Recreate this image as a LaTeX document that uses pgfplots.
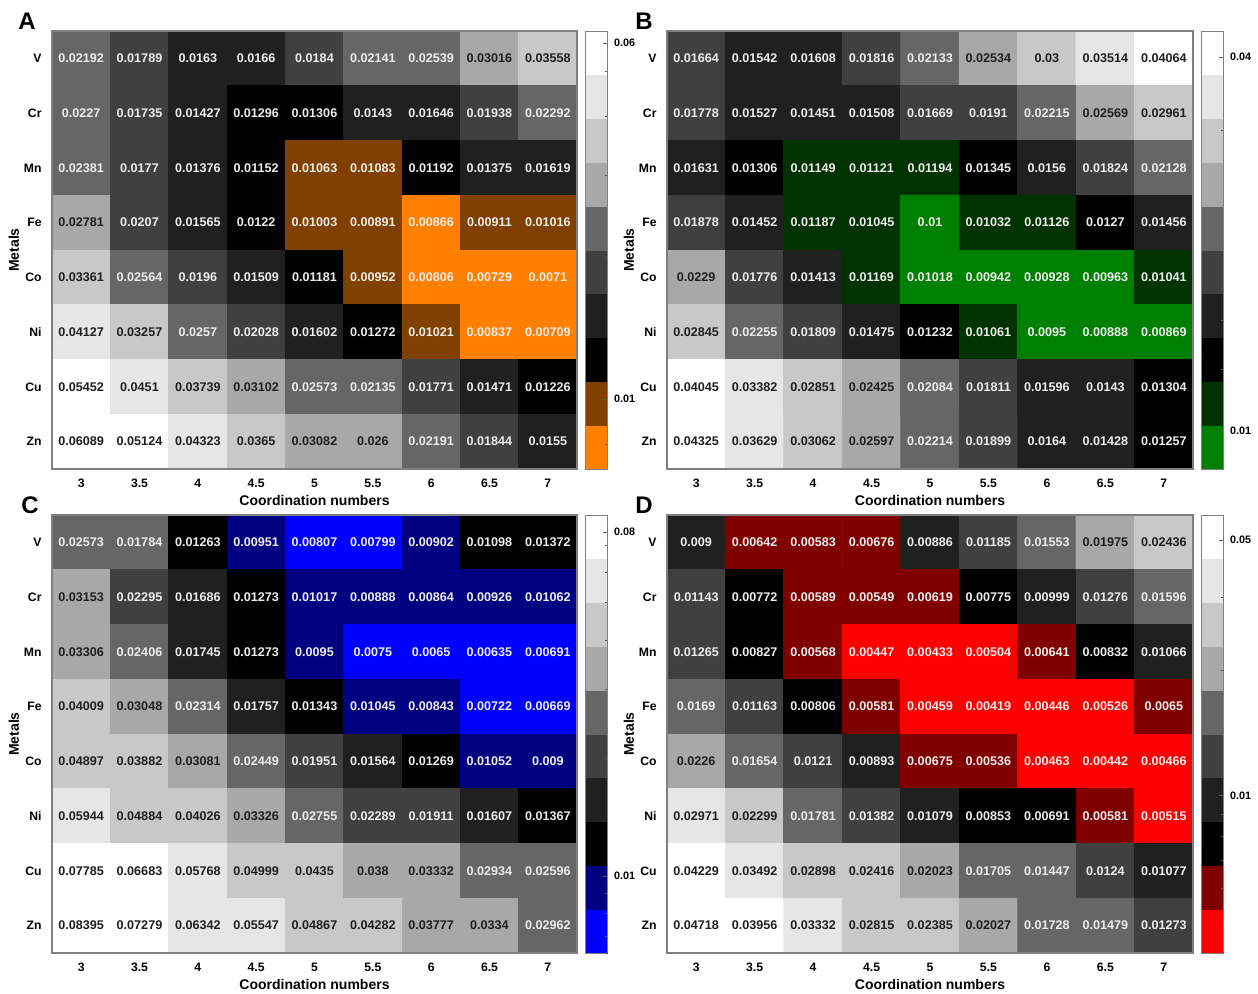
\documentclass[border=0pt]{standalone}
\usepackage{pgfplots}
\pgfplotsset{compat=1.18}
\usepackage{pgfplotstable}
\usepackage{fontspec}
\setmainfont{Liberation Sans}

% columns: x (coordination index), y (metal index), v (value), b (colour class of the cell, 0..9)
\pgfplotstableread[row sep=\\]{
x y v b\\
0 7 0.02192 5\\ 1 7 0.01789 4\\ 2 7 0.0163 3\\ 3 7 0.0166 3\\ 4 7 0.0184 4\\ 5 7 0.02141 5\\ 6 7 0.02539 5\\ 7 7 0.03016 6\\ 8 7 0.03558 7\\
0 6 0.0227 5\\ 1 6 0.01735 4\\ 2 6 0.01427 3\\ 3 6 0.01296 2\\ 4 6 0.01306 2\\ 5 6 0.0143 3\\ 6 6 0.01646 3\\ 7 6 0.01938 4\\ 8 6 0.02292 5\\
0 5 0.02381 5\\ 1 5 0.0177 4\\ 2 5 0.01376 3\\ 3 5 0.01152 2\\ 4 5 0.01063 1\\ 5 5 0.01083 1\\ 6 5 0.01192 2\\ 7 5 0.01375 3\\ 8 5 0.01619 3\\
0 4 0.02781 6\\ 1 4 0.0207 4\\ 2 4 0.01565 3\\ 3 4 0.0122 2\\ 4 4 0.01003 1\\ 5 4 0.00891 1\\ 6 4 0.00866 0\\ 7 4 0.00911 1\\ 8 4 0.01016 1\\
0 3 0.03361 7\\ 1 3 0.02564 5\\ 2 3 0.0196 4\\ 3 3 0.01509 3\\ 4 3 0.01181 2\\ 5 3 0.00952 1\\ 6 3 0.00806 0\\ 7 3 0.00729 0\\ 8 3 0.0071 0\\
0 2 0.04127 8\\ 1 2 0.03257 7\\ 2 2 0.0257 5\\ 3 2 0.02028 4\\ 4 2 0.01602 3\\ 5 2 0.01272 2\\ 6 2 0.01021 1\\ 7 2 0.00837 0\\ 8 2 0.00709 0\\
0 1 0.05452 9\\ 1 1 0.0451 8\\ 2 1 0.03739 7\\ 3 1 0.03102 6\\ 4 1 0.02573 5\\ 5 1 0.02135 5\\ 6 1 0.01771 4\\ 7 1 0.01471 3\\ 8 1 0.01226 2\\
0 0 0.06089 9\\ 1 0 0.05124 9\\ 2 0 0.04323 8\\ 3 0 0.0365 7\\ 4 0 0.03082 6\\ 5 0 0.026 6\\ 6 0 0.02191 5\\ 7 0 0.01844 4\\ 8 0 0.0155 3\\
}\dataA

\pgfplotstableread[row sep=\\]{
x y v b\\
0 7 0.01664 4\\ 1 7 0.01542 3\\ 2 7 0.01608 3\\ 3 7 0.01816 4\\ 4 7 0.02133 5\\ 5 7 0.02534 6\\ 6 7 0.03 7\\ 7 7 0.03514 8\\ 8 7 0.04064 9\\
0 6 0.01778 4\\ 1 6 0.01527 3\\ 2 6 0.01451 3\\ 3 6 0.01508 3\\ 4 6 0.01669 4\\ 5 6 0.0191 4\\ 6 6 0.02215 5\\ 7 6 0.02569 6\\ 8 6 0.02961 7\\
0 5 0.01631 3\\ 1 5 0.01306 2\\ 2 5 0.01149 1\\ 3 5 0.01121 1\\ 4 5 0.01194 1\\ 5 5 0.01345 2\\ 6 5 0.0156 3\\ 7 5 0.01824 4\\ 8 5 0.02128 5\\
0 4 0.01878 4\\ 1 4 0.01452 3\\ 2 4 0.01187 1\\ 3 4 0.01045 1\\ 4 4 0.01 0\\ 5 4 0.01032 1\\ 6 4 0.01126 1\\ 7 4 0.0127 2\\ 8 4 0.01456 3\\
0 3 0.0229 6\\ 1 3 0.01776 4\\ 2 3 0.01413 3\\ 3 3 0.01169 1\\ 4 3 0.01018 0\\ 5 3 0.00942 0\\ 6 3 0.00928 0\\ 7 3 0.00963 0\\ 8 3 0.01041 1\\
0 2 0.02845 7\\ 1 2 0.02255 5\\ 2 2 0.01809 4\\ 3 2 0.01475 3\\ 4 2 0.01232 2\\ 5 2 0.01061 1\\ 6 2 0.0095 0\\ 7 2 0.00888 0\\ 8 2 0.00869 0\\
0 1 0.04045 9\\ 1 1 0.03382 8\\ 2 1 0.02851 7\\ 3 1 0.02425 6\\ 4 1 0.02084 5\\ 5 1 0.01811 4\\ 6 1 0.01596 3\\ 7 1 0.0143 3\\ 8 1 0.01304 2\\
0 0 0.04325 9\\ 1 0 0.03629 8\\ 2 0 0.03062 7\\ 3 0 0.02597 6\\ 4 0 0.02214 5\\ 5 0 0.01899 4\\ 6 0 0.0164 3\\ 7 0 0.01428 3\\ 8 0 0.01257 2\\
}\dataB

\pgfplotstableread[row sep=\\]{
x y v b\\
0 7 0.02573 5\\ 1 7 0.01784 5\\ 2 7 0.01263 2\\ 3 7 0.00951 1\\ 4 7 0.00807 0\\ 5 7 0.00799 0\\ 6 7 0.00902 1\\ 7 7 0.01098 2\\ 8 7 0.01372 2\\
0 6 0.03153 6\\ 1 6 0.02295 4\\ 2 6 0.01686 3\\ 3 6 0.01273 2\\ 4 6 0.01017 1\\ 5 6 0.00888 1\\ 6 6 0.00864 1\\ 7 6 0.00926 1\\ 8 6 0.01062 1\\
0 5 0.03306 6\\ 1 5 0.02406 5\\ 2 5 0.01745 3\\ 3 5 0.01273 2\\ 4 5 0.0095 1\\ 5 5 0.0075 0\\ 6 5 0.0065 0\\ 7 5 0.00635 0\\ 8 5 0.00691 0\\
0 4 0.04009 7\\ 1 4 0.03048 6\\ 2 4 0.02314 5\\ 3 4 0.01757 3\\ 4 4 0.01343 2\\ 5 4 0.01045 1\\ 6 4 0.00843 1\\ 7 4 0.00722 0\\ 8 4 0.00669 0\\
0 3 0.04897 7\\ 1 3 0.03882 7\\ 2 3 0.03081 6\\ 3 3 0.02449 5\\ 4 3 0.01951 4\\ 5 3 0.01564 3\\ 6 3 0.01269 2\\ 7 3 0.01052 1\\ 8 3 0.009 1\\
0 2 0.05944 8\\ 1 2 0.04884 7\\ 2 2 0.04026 7\\ 3 2 0.03326 6\\ 4 2 0.02755 5\\ 5 2 0.02289 4\\ 6 2 0.01911 4\\ 7 2 0.01607 3\\ 8 2 0.01367 2\\
0 1 0.07785 9\\ 1 1 0.06683 9\\ 2 1 0.05768 8\\ 3 1 0.04999 7\\ 4 1 0.0435 7\\ 5 1 0.038 6\\ 6 1 0.03332 6\\ 7 1 0.02934 5\\ 8 1 0.02596 5\\
0 0 0.08395 9\\ 1 0 0.07279 9\\ 2 0 0.06342 8\\ 3 0 0.05547 8\\ 4 0 0.04867 7\\ 5 0 0.04282 7\\ 6 0 0.03777 6\\ 7 0 0.0334 6\\ 8 0 0.02962 5\\
}\dataC

\pgfplotstableread[row sep=\\]{
x y v b\\
0 7 0.009 3\\ 1 7 0.00642 1\\ 2 7 0.00583 1\\ 3 7 0.00676 1\\ 4 7 0.00886 3\\ 5 7 0.01185 4\\ 6 7 0.01553 5\\ 7 7 0.01975 6\\ 8 7 0.02436 7\\
0 6 0.01143 4\\ 1 6 0.00772 2\\ 2 6 0.00589 1\\ 3 6 0.00549 1\\ 4 6 0.00619 1\\ 5 6 0.00775 2\\ 6 6 0.00999 3\\ 7 6 0.01276 4\\ 8 6 0.01596 5\\
0 5 0.01265 4\\ 1 5 0.00827 2\\ 2 5 0.00568 1\\ 3 5 0.00447 0\\ 4 5 0.00433 0\\ 5 5 0.00504 0\\ 6 5 0.00641 1\\ 7 5 0.00832 2\\ 8 5 0.01066 3\\
0 4 0.0169 5\\ 1 4 0.01163 4\\ 2 4 0.00806 2\\ 3 4 0.00581 1\\ 4 4 0.00459 0\\ 5 4 0.00419 0\\ 6 4 0.00446 0\\ 7 4 0.00526 0\\ 8 4 0.0065 1\\
0 3 0.0226 6\\ 1 3 0.01654 5\\ 2 3 0.0121 4\\ 3 3 0.00893 3\\ 4 3 0.00675 1\\ 5 3 0.00536 1\\ 6 3 0.00463 0\\ 7 3 0.00442 0\\ 8 3 0.00466 0\\
0 2 0.02971 8\\ 1 2 0.02299 7\\ 2 2 0.01781 5\\ 3 2 0.01382 4\\ 4 2 0.01079 3\\ 5 2 0.00853 2\\ 6 2 0.00691 2\\ 7 2 0.00581 1\\ 8 2 0.00515 0\\
0 1 0.04229 9\\ 1 1 0.03492 8\\ 2 1 0.02898 7\\ 3 1 0.02416 7\\ 4 1 0.02023 6\\ 5 1 0.01705 5\\ 6 1 0.01447 5\\ 7 1 0.0124 4\\ 8 1 0.01077 3\\
0 0 0.04718 9\\ 1 0 0.03956 9\\ 2 0 0.03332 8\\ 3 0 0.02815 7\\ 4 0 0.02385 7\\ 5 0 0.02027 6\\ 6 0 0.01728 5\\ 7 0 0.01479 5\\ 8 0 0.01273 4\\
}\dataD

\pgfplotsset{
  colormap={mapA}{rgb255=(255,128,0) rgb255=(128,64,0) rgb255=(0,0,0) rgb255=(32,32,32) rgb255=(64,64,64) rgb255=(102,102,102) rgb255=(168,168,168) rgb255=(200,200,200) rgb255=(230,230,230) rgb255=(255,255,255)},
  colormap={mapB}{rgb255=(0,128,0) rgb255=(0,51,0) rgb255=(0,0,0) rgb255=(32,32,32) rgb255=(64,64,64) rgb255=(102,102,102) rgb255=(168,168,168) rgb255=(200,200,200) rgb255=(230,230,230) rgb255=(255,255,255)},
  colormap={mapC}{rgb255=(0,0,255) rgb255=(0,0,128) rgb255=(0,0,0) rgb255=(32,32,32) rgb255=(64,64,64) rgb255=(102,102,102) rgb255=(168,168,168) rgb255=(200,200,200) rgb255=(230,230,230) rgb255=(255,255,255)},
  colormap={mapD}{rgb255=(255,0,0) rgb255=(128,0,0) rgb255=(0,0,0) rgb255=(32,32,32) rgb255=(64,64,64) rgb255=(102,102,102) rgb255=(168,168,168) rgb255=(200,200,200) rgb255=(230,230,230) rgb255=(255,255,255)},
  heat/.style={
    scale only axis, height=219pt,
    xmin=-0.5, xmax=8.5, ymin=-0.5, ymax=7.5,
    enlargelimits=false, axis on top,
    xtick={0,...,8}, xticklabels={3,3.5,4,4.5,5,5.5,6,6.5,7},
    ytick={0,...,7}, yticklabels={Zn,Cu,Ni,Co,Fe,Mn,Cr,V},
    major tick length=0pt,
    tick label style={font=\fontsize{6.1}{7}\selectfont\bfseries},
    xticklabel style={anchor=center, yshift=-7pt},
    yticklabel style={anchor=east, xshift=-1.7pt},
    xlabel={Coordination numbers}, ylabel={Metals},
    label style={font=\fontsize{7}{8}\selectfont\bfseries},
    xlabel style={at={(axis description cs:0.5,-0.073)}, anchor=center},
    ylabel style={at={(axis description cs:-0.0724,0.5)}, anchor=center},
    axis line style={draw=gray, line width=0.6pt},
    colormap access=piecewise constant,
    point meta min=0, point meta max=10,
    colorbar,
    colorbar style={
      scale only axis, width=11pt, height=219pt,
      at={(parent axis.north east)}, anchor=north west, xshift=-4.5pt,
      yticklabel style={font=\fontsize{5.4}{6}\selectfont\bfseries},
      major tick length=2pt, minor tick length=1.2pt, tick align=inside,
      ytick pos=right,
      axis line style={draw=gray, line width=0.5pt},
      tick style={draw=gray!70!black, line width=0.4pt},
    },
  },
  hmtext/.style={
    draw=none, mark=none, point meta=explicit symbolic,
    nodes near coords,
    every node near coord/.append style={anchor=center, inner sep=0pt, text=#1, font=\fontsize{6.3}{7}\selectfont\bfseries},
  },
}

\begin{document}
\begin{tikzpicture}
\useasboundingbox (0,0) rectangle (629pt,496.5pt);

% ---------- A ----------
\begin{axis}[heat, width=262.5pt, at={(26pt,262pt)}, anchor=south west,
  colormap name=mapA,
  colorbar style={ytick={1.5993,9.7242}, yticklabels={0.01,0.06},
    minor ytick={0.5616,1.1093,4.8226,6.7082,8.0460,9.0837}}]
\addplot[matrix plot*, mesh/cols=9, point meta={\thisrow{b}+0.5}] table[x=x,y=y] {\dataA};
\addplot[hmtext=white!93!black, restrict expr to domain={\thisrow{b}}{0:5}] table[x=x,y=y,meta=v] {\dataA};
\addplot[hmtext=black!88, restrict expr to domain={\thisrow{b}}{6:9}] table[x=x,y=y,meta=v] {\dataA};
\end{axis}

% ---------- B ----------
\begin{axis}[heat, width=263pt, at={(333.5pt,262pt)}, anchor=south west,
  colormap name=mapB,
  colorbar style={ytick={0.8749,9.4065}, yticklabels={0.01,0.04},
    minor ytick={0.2184,2.2654,3.4015,5.1941,7.7206}}]
\addplot[matrix plot*, mesh/cols=9, point meta={\thisrow{b}+0.5}] table[x=x,y=y] {\dataB};
\addplot[hmtext=white!93!black, restrict expr to domain={\thisrow{b}}{0:5}] table[x=x,y=y,meta=v] {\dataB};
\addplot[hmtext=black!88, restrict expr to domain={\thisrow{b}}{6:9}] table[x=x,y=y,meta=v] {\dataB};
\end{axis}

% ---------- C ----------
\begin{axis}[heat, width=262.5pt, at={(26pt,20pt)}, anchor=south west,
  colormap name=mapC,
  colorbar style={ytick={1.7592,9.6122}, yticklabels={0.01,0.08},
    minor ytick={0.3775,0.8948,1.3511,4.4444,6.0151,7.1295,7.9940,8.7002,9.2973}}]
\addplot[matrix plot*, mesh/cols=9, point meta={\thisrow{b}+0.5}] table[x=x,y=y] {\dataC};
\addplot[hmtext=white!93!black, restrict expr to domain={\thisrow{b}}{0:5}] table[x=x,y=y,meta=v] {\dataC};
\addplot[hmtext=black!88, restrict expr to domain={\thisrow{b}}{6:9}] table[x=x,y=y,meta=v] {\dataC};
\end{axis}

% ---------- D ----------
\begin{axis}[heat, width=263pt, at={(333.5pt,20pt)}, anchor=south west,
  colormap name=mapD,
  colorbar style={ytick={3.5927,9.4292}, yticklabels={0.01,0.05},
    minor ytick={0.7299,1.4830,2.1196,2.6711,3.1575,6.4554,8.1300}}]
\addplot[matrix plot*, mesh/cols=9, point meta={\thisrow{b}+0.5}] table[x=x,y=y] {\dataD};
\addplot[hmtext=white!93!black, restrict expr to domain={\thisrow{b}}{0:5}] table[x=x,y=y,meta=v] {\dataD};
\addplot[hmtext=black!88, restrict expr to domain={\thisrow{b}}{6:9}] table[x=x,y=y,meta=v] {\dataD};
\end{axis}

\node[font=\fontsize{12}{14}\selectfont\bfseries] at (13.5pt,486pt) {A};
\node[font=\fontsize{12}{14}\selectfont\bfseries] at (322pt,486pt) {B};
\node[font=\fontsize{12}{14}\selectfont\bfseries] at (15pt,244pt) {C};
\node[font=\fontsize{12}{14}\selectfont\bfseries] at (322pt,244pt) {D};
\end{tikzpicture}
\end{document}
